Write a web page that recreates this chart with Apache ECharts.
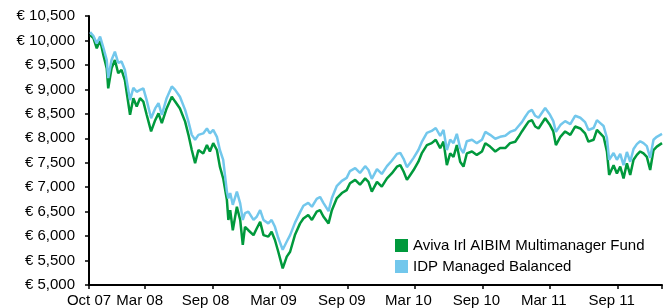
<!DOCTYPE html>
<html>
<head>
<meta charset="utf-8">
<script src="https://cdn.jsdelivr.net/npm/echarts@6/dist/echarts.min.js"></script>
<style>
  html, body { margin: 0; padding: 0; background: #fff; }
  #view { width: 670px; height: 308px; }
</style>
</head>
<body>
<div id="view"></div>
<script>
// dates of the sampled points
var dates = [
  '2007-10-04','2007-10-13','2007-10-22','2007-10-31','2007-11-09','2007-11-18','2007-11-22','2007-12-01','2007-12-10','2007-12-19','2007-12-28',
  '2008-01-06','2008-01-20','2008-01-29','2008-02-07','2008-02-16','2008-02-25','2008-03-05','2008-03-17','2008-03-28','2008-04-06','2008-04-15','2008-04-28','2008-05-12','2008-05-21','2008-06-03','2008-06-17','2008-06-26','2008-07-05','2008-07-14','2008-07-23','2008-08-05','2008-08-15','2008-08-23','2008-09-01','2008-09-11','2008-09-19','2008-09-28','2008-10-08','2008-10-12','2008-10-17','2008-10-24','2008-11-04','2008-11-13','2008-11-20','2008-11-26','2008-12-05','2008-12-19','2008-12-28',
  '2009-01-06','2009-01-15','2009-01-28','2009-02-06','2009-02-15','2009-02-24','2009-03-08','2009-03-19','2009-03-28','2009-04-10','2009-04-24','2009-05-03','2009-05-16','2009-05-26','2009-06-08','2009-06-17','2009-06-26','2009-07-10','2009-07-19','2009-08-01','2009-08-15','2009-08-28','2009-09-06','2009-09-20','2009-10-03','2009-10-17','2009-10-26','2009-11-04','2009-11-18','2009-12-01','2009-12-15','2009-12-28',
  '2010-01-11','2010-01-20','2010-01-29','2010-02-07','2010-02-16','2010-02-25','2010-03-10','2010-03-19','2010-04-02','2010-04-15','2010-04-26','2010-05-08','2010-05-17','2010-05-26','2010-06-04','2010-06-13','2010-06-22','2010-07-01','2010-07-10','2010-07-19','2010-08-02','2010-08-15','2010-08-29','2010-09-07','2010-09-20','2010-10-04','2010-10-17','2010-10-31','2010-11-13','2010-11-27','2010-12-06','2010-12-15','2010-12-24',
  '2011-01-02','2011-01-11','2011-01-20','2011-01-29','2011-02-02','2011-02-16','2011-03-01','2011-03-10','2011-03-17','2011-03-29','2011-04-11','2011-04-25','2011-05-08','2011-05-22','2011-06-04','2011-06-13','2011-06-27','2011-07-06','2011-07-15','2011-07-24','2011-08-02','2011-08-08','2011-08-20','2011-08-29','2011-09-07','2011-09-16','2011-09-25','2011-10-04','2011-10-13','2011-10-22','2011-10-31','2011-11-09','2011-11-18','2011-11-27','2011-12-06','2011-12-15','2011-12-29'
];

var aviva = [
  10110,10050,9840,10010,9700,9430,9020,9430,9600,9330,9400,
  9190,8480,8820,8650,8820,8750,8480,8140,8370,8510,8310,8610,8850,8750,8610,8340,8070,7760,7490,7760,7690,7860,7730,7900,7760,7420,7180,6740,6330,6530,6120,6600,6330,5820,6190,6120,6020,6160,
  6290,6020,5990,6090,5920,5680,5340,5580,5680,6020,6260,6360,6430,6330,6500,6530,6400,6260,6530,6770,6880,6940,7080,7150,7050,7180,7110,6910,7110,7010,7180,7280,
  7420,7450,7320,7150,7250,7350,7520,7690,7860,7900,7970,7800,7930,7450,7690,7620,7860,7520,7420,7690,7730,7660,7730,7900,7830,7730,7800,7800,7900,7930,8030,8140,8240,
  8340,8370,8240,8200,8200,8410,8270,8140,7860,8030,8140,8070,8240,8200,8100,7930,7970,8170,8100,8030,7730,7250,7450,7280,7420,7180,7490,7250,7560,7660,7730,7690,7620,7350,7760,7830,7900
];

var idp = [
  10170,10090,9940,10080,9850,9600,9230,9600,9770,9540,9570,
  9400,8780,9030,8950,8990,9020,8780,8410,8610,8720,8480,8820,9060,8990,8850,8580,8340,8070,7970,8070,8100,8200,8100,8170,8030,7760,7560,6910,6770,6880,6640,6910,6670,6330,6470,6500,6330,6400,
  6530,6330,6260,6330,6190,5960,5720,5890,6020,6270,6490,6620,6680,6600,6760,6800,6680,6510,6780,7020,7130,7190,7330,7390,7290,7430,7350,7170,7370,7270,7430,7540,
  7680,7700,7580,7410,7500,7600,7760,7920,8110,8150,8210,8050,8170,7760,7970,7900,8090,7800,7700,7940,7970,7900,7970,8130,8070,7990,8030,8050,8130,8170,8250,8330,8440,
  8540,8580,8460,8420,8420,8620,8480,8350,8130,8270,8350,8290,8460,8420,8330,8170,8210,8370,8310,8250,8010,7560,7700,7560,7680,7450,7720,7520,7780,7880,7940,7900,7840,7600,7970,8030,8090
];

var seriesNames = ['Aviva Irl AIBIM Multimanager Fund', 'IDP Managed Balanced'];

// x axis tick marks and labels
var tickDates = ['2007-10-01','2008-03-01','2008-09-01','2009-03-01','2009-09-01','2010-03-01','2010-09-01','2011-03-01','2011-09-01','2011-12-29'];
var tickLabels = ['Oct 07','Mar 08','Sep 08','Mar 09','Sep 09','Mar 10','Sep 10','Mar 11','Sep 11'];
var labelDates = ['2007-10-01','2008-02-15','2008-08-11','2009-02-11','2009-08-15','2010-02-11','2010-08-14','2011-02-12','2011-08-15'];

function toTime(s) { return new Date(s + 'T00:00:00').getTime(); }

var labelTimes = labelDates.map(toTime);
var font = "'Liberation Sans', Arial, sans-serif";

var myChart = echarts.init(document.getElementById('view'));
var option = {
    backgroundColor: '#fff',
    animation: false,
    grid: { left: 89, right: 8, top: 16, bottom: 23 },
    legend: {
        orient: 'vertical',
        left: 395,
        top: 238,
        icon: 'rect',
        itemWidth: 13,
        itemHeight: 13,
        itemGap: 6,
        padding: 0,
        data: seriesNames,
        textStyle: { color: '#000', fontSize: 15, fontFamily: font }
    },
    xAxis: {
        type: 'value',
        min: toTime('2007-10-01'),
        max: toTime('2011-12-29'),
        splitLine: { show: false },
        axisLine: { lineStyle: { color: '#000', width: 2 } },
        axisTick: {
            show: true,
            length: 4,
            lineStyle: { color: '#000', width: 1.5 },
            customValues: tickDates.map(toTime)
        },
        axisLabel: {
            color: '#000',
            fontSize: 15,
            fontFamily: font,
            margin: 8,
            hideOverlap: false,
            customValues: labelTimes,
            formatter: function (val) {
                for (var i = 0; i < labelTimes.length; i++) {
                    if (Math.abs(labelTimes[i] - val) < 43200000) return tickLabels[i];
                }
                return '';
            }
        }
    },
    yAxis: {
        type: 'value',
        min: 5000,
        max: 10500,
        interval: 500,
        splitLine: { show: false },
        axisLine: { show: true, lineStyle: { color: '#000', width: 2 } },
        axisTick: { show: true, length: 4, lineStyle: { color: '#000', width: 1.5 } },
        axisLabel: {
            color: '#000',
            fontSize: 15,
            fontFamily: font,
            margin: 14,
            formatter: function (v) {
                return '\u20ac ' + v.toLocaleString('en-US');
            }
        }
    },
    series: [{
        name: seriesNames[0],
        type: 'line',
        showSymbol: false,
        color: '#00993c',
        lineStyle: { color: '#00993c', width: 2.5 },
        data: dates.map(function (d, i) { return [toTime(d), aviva[i]]; })
    }, {
        name: seriesNames[1],
        type: 'line',
        showSymbol: false,
        color: '#72c7ec',
        lineStyle: { color: '#72c7ec', width: 2.5 },
        data: dates.map(function (d, i) { return [toTime(d), idp[i]]; })
    }]
};
myChart.setOption(option);
</script>
</body>
</html>
